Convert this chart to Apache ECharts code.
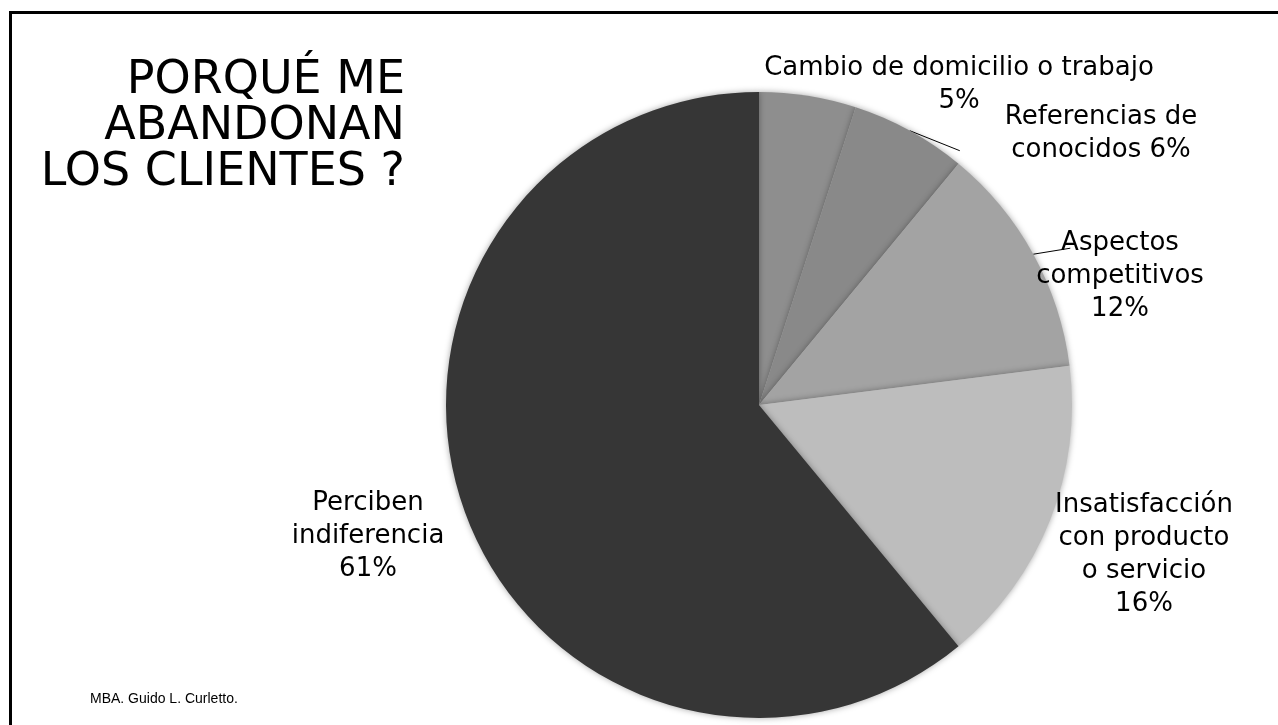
<!DOCTYPE html>
<html>
<head>
<meta charset="utf-8">
<script src="https://cdn.jsdelivr.net/npm/echarts@6/dist/echarts.min.js"></script>
<style>
  html, body { margin: 0; padding: 0; background: #fff; }
  #main { width: 1278px; height: 725px; }
</style>
</head>
<body>
<div id="main"></div>
<script>
// data (clockwise from the top)
const categories = [
  'Cambio de domicilio o trabajo',
  'Referencias de conocidos',
  'Aspectos competitivos',
  'Insatisfacción con producto o servicio',
  'Perciben indiferencia'
];
const percents = [5, 6, 12, 16, 61];
// how each label is broken into lines, {p} = percent
const labelTemplates = [
  'Cambio de domicilio o trabajo\n{p}',
  'Referencias de\nconocidos {p}',
  'Aspectos\ncompetitivos\n{p}',
  'Insatisfacción\ncon producto\no servicio\n{p}',
  'Perciben\nindiferencia\n{p}'
];
const sliceColors = ['#8e8e8e', '#898989', '#a3a3a3', '#bdbdbd', '#363636'];
// label centres in pixels
const labelPos = [[959, 85], [1101, 134], [1120, 276], [1144, 555], [368, 536]];
// leader line offset from the slice edge (null = no line)
const lineOffset = [null, [50, 20], [37, -6], null, null];

const chart = echarts.init(document.getElementById('main'));

const option = {
  backgroundColor: '#ffffff',
  animation: false,
  graphic: [
    {
      type: 'rect',
      shape: { x: 10.5, y: 12.5, width: 1400, height: 800 },
      style: { fill: 'none', stroke: '#000', lineWidth: 3 },
      silent: true
    },
    {
      type: 'text',
      x: 405,
      y: 58,
      style: {
        text: 'PORQUÉ ME\nABANDONAN\nLOS CLIENTES ?',
        align: 'right',
        font: '46px "DejaVu Sans"',
        lineHeight: 46,
        fill: '#000'
      }
    },
    {
      type: 'text',
      x: 90,
      y: 692,
      style: {
        text: 'MBA. Guido L. Curletto.',
        font: '14px "Liberation Sans"',
        fill: '#000'
      }
    }
  ],
  series: [
    {
      type: 'pie',
      center: [759, 405],
      radius: 313,
      startAngle: 90,
      clockwise: true,
      avoidLabelOverlap: false,
      itemStyle: {
        shadowBlur: 6,
        shadowColor: 'rgba(0,0,0,0.35)'
      },
      label: {
        show: true,
        position: 'outside',
        color: '#000',
        fontFamily: 'DejaVu Sans',
        fontSize: 26,
        lineHeight: 33,
        align: 'center',
        formatter: function (p) {
          return labelTemplates[p.dataIndex].replace('{p}', p.value + '%');
        }
      },
      labelLine: {
        show: true,
        length: 10,
        length2: 10,
        lineStyle: { color: '#000', width: 1 }
      },
      labelLayout: function (p) {
        const pos = labelPos[p.dataIndex];
        const res = {
          x: pos[0],
          y: pos[1],
          align: 'center',
          verticalAlign: 'middle'
        };
        const off = lineOffset[p.dataIndex];
        if (off && p.labelLinePoints) {
          const a = p.labelLinePoints[0];
          res.labelLinePoints = [[a[0], a[1]], [a[0] + off[0], a[1] + off[1]]];
        }
        return res;
      },
      data: categories.map(function (name, i) {
        return {
          name: name,
          value: percents[i],
          itemStyle: { color: sliceColors[i] },
          labelLine: { show: lineOffset[i] !== null }
        };
      })
    }
  ]
};

chart.setOption(option);
</script>
</body>
</html>
